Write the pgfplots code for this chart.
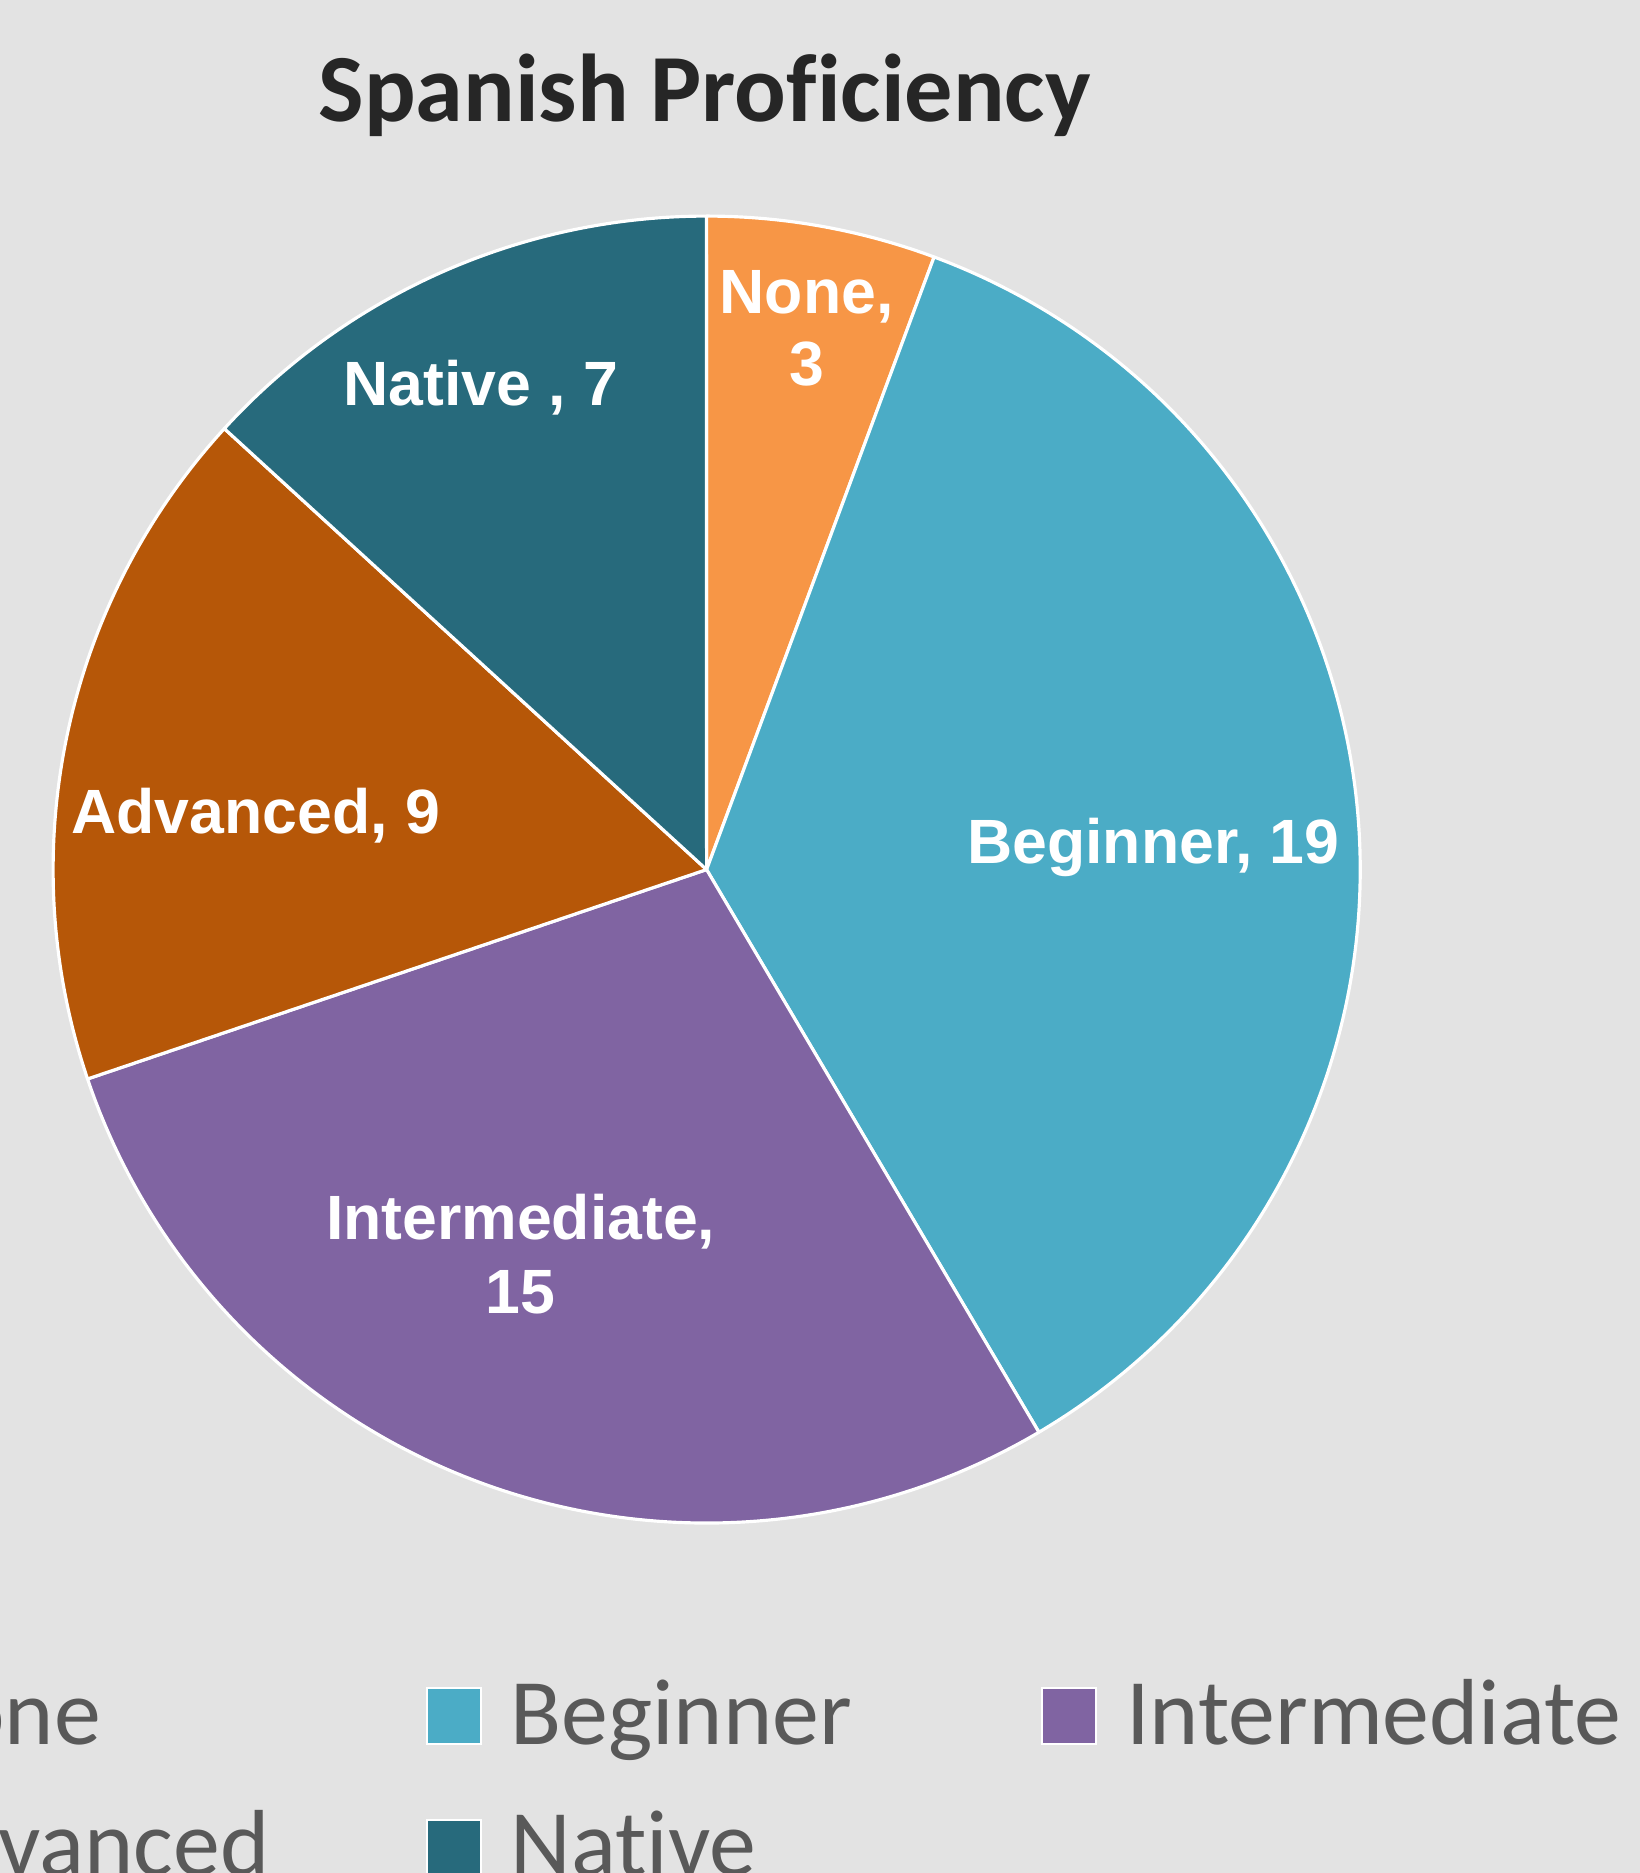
\documentclass[border=0pt]{standalone}
\usepackage{pgfplots}
\pgfplotsset{compat=1.18}
\usepackage{pgfplotstable}
\usepackage{fontspec}
\setmainfont{Liberation Sans}
\newfontfamily\carlito[Ligatures=NoCommon]{Carlito}
\definecolor{bgc}{HTML}{E3E3E3}
\definecolor{cNone}{HTML}{F79646}
\definecolor{cBeg}{HTML}{4BACC6}
\definecolor{cInt}{HTML}{8064A2}
\definecolor{cAdv}{HTML}{B65708}
\definecolor{cNat}{HTML}{276A7C}
\definecolor{titlec}{HTML}{262626}
\definecolor{legc}{HTML}{595959}
\pgfplotstableread{
label value color
None 3 cNone
Beginner 19 cBeg
Intermediate 15 cInt
Advanced 9 cAdv
Native 7 cNat
}\piedata
\begin{document}
\begin{tikzpicture}
\useasboundingbox (0,0) rectangle (16.4cm,18.73cm);
\fill[bgc] (0,0) rectangle (16.4cm,18.73cm);
\clip (0,0) rectangle (16.4cm,18.73cm);
\begin{axis}[at={(0,0)}, anchor=south west, x=0.01cm, y=0.01cm,
  xmin=0, xmax=1640, ymin=0, ymax=1873, hide axis, clip=false]
\pgfplotsextra{%
  \gdef\pietotal{0}%
  \pgfplotstableforeachcolumnelement{value}\of\piedata\as\val{%
    \pgfmathsetmacro\tmpsum{\pietotal+\val}\xdef\pietotal{\tmpsum}}%
  \gdef\angA{90}%
  \pgfplotstableforeachcolumnelement{value}\of\piedata\as\val{%
    \pgfplotstablegetelem{\pgfplotstablerow}{color}\of\piedata
    \let\col\pgfplotsretval
    \pgfmathsetmacro\angB{\angA-\val/\pietotal*360}%
    \filldraw[fill=\col, draw=white, line width=0.9pt, line join=round]
      (axis cs:707,1004) -- ++(\angA:6.535cm)
      arc[start angle=\angA, end angle=\angB, radius=6.535cm] -- cycle;
    \xdef\angA{\angB}%
  }%
}
% slice labels
\begin{scope}[every node/.style={text=white, inner sep=0pt, anchor=base,
   font=\fontsize{17.8}{21}\selectfont\bfseries}]
\node at (axis cs:807,1560) {None,};
\node at (axis cs:807,1488) {3};
\node at (axis cs:481,1468) {Native , 7};
\node at (axis cs:1154,1010) {Beginner, 19};
\node at (axis cs:256,1040) {Advanced, 9};
\node at (axis cs:521,634) {Intermediate,};
\node at (axis cs:521,560) {15};
\end{scope}
% title
\node[anchor=base, inner sep=0pt, text=titlec, font=\carlito\fontsize{27.4}{33}\selectfont\bfseries]
  at (axis cs:705,1753) {Spanish Proficiency};
% legend
\begin{scope}[every node/.style={text=legc, inner sep=0pt, anchor=base west,
   font=\carlito\fontsize{26.7}{32}\selectfont}]
\filldraw[fill=cNone, draw=white, line width=0.6pt] (axis cs:-189,129) rectangle (axis cs:-135,185);
\node at (axis cs:-106,129) {None};
\filldraw[fill=cBeg, draw=white, line width=0.6pt] (axis cs:427,129) rectangle (axis cs:481,185);
\node at (axis cs:510,129) {Beginner};
\filldraw[fill=cInt, draw=white, line width=0.6pt] (axis cs:1043,129) rectangle (axis cs:1097,185);
\node at (axis cs:1126,129) {Intermediate};
\filldraw[fill=cAdv, draw=white, line width=0.6pt] (axis cs:-189,-3) rectangle (axis cs:-135,53);
\node at (axis cs:-106,-3) {Advanced};
\filldraw[fill=cNat, draw=white, line width=0.6pt] (axis cs:427,-3) rectangle (axis cs:481,53);
\node at (axis cs:510,-3) {Native};
\end{scope}
\end{axis}
\end{tikzpicture}
\end{document}
